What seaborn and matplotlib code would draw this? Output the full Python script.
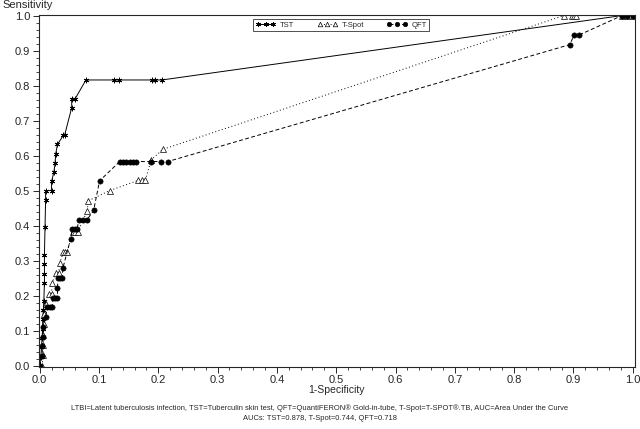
import numpy as np
import pandas as pd
import matplotlib
matplotlib.use("Agg")
import matplotlib.pyplot as plt
from matplotlib.ticker import AutoMinorLocator
import seaborn as sns

tst_x = [0.0, 0.002, 0.003, 0.004, 0.005, 0.005, 0.006, 0.007, 0.008, 0.008, 0.008, 0.008,
         0.009, 0.010, 0.010, 0.020, 0.020, 0.024, 0.026, 0.027, 0.030, 0.040, 0.042,
         0.054, 0.054, 0.060, 0.078, 0.126, 0.134, 0.190, 0.195, 0.206, 0.982, 0.990, 1.0]
tst_y = [0.0, 0.026, 0.053, 0.079, 0.105, 0.132, 0.158, 0.184, 0.237, 0.263, 0.289, 0.316,
         0.395, 0.474, 0.500, 0.500, 0.526, 0.553, 0.579, 0.605, 0.632, 0.658, 0.658,
         0.737, 0.763, 0.763, 0.816, 0.816, 0.816, 0.816, 0.816, 0.816, 1.0, 1.0, 1.0]

tspot_x = [0.0045, 0.005, 0.006, 0.006, 0.007, 0.008, 0.010, 0.016, 0.020, 0.021, 0.027, 0.032,
           0.034, 0.040, 0.043, 0.046, 0.056, 0.060, 0.064, 0.080, 0.082, 0.118, 0.166,
           0.172, 0.178, 0.188, 0.208, 0.884, 0.898, 0.901, 0.904, 0.982, 0.990, 1.0]
tspot_y = [0.0, 0.029, 0.059, 0.088, 0.118, 0.147, 0.176, 0.206, 0.206, 0.235, 0.265, 0.265,
           0.294, 0.324, 0.324, 0.324, 0.382, 0.382, 0.382, 0.441, 0.471, 0.500, 0.529,
           0.529, 0.529, 0.588, 0.618, 1.0, 1.0, 1.0, 1.0, 1.0, 1.0, 1.0]

qft_x = [0.0, 0.004, 0.0045, 0.005, 0.0056, 0.010, 0.013, 0.017, 0.021, 0.022, 0.026, 0.030,
         0.030, 0.031, 0.035, 0.038, 0.039, 0.052, 0.055, 0.059, 0.063, 0.066, 0.073, 0.080,
         0.091, 0.101, 0.135, 0.140, 0.146, 0.153, 0.158, 0.163, 0.188, 0.205, 0.216,
         0.894, 0.901, 0.909, 0.982, 0.990, 1.0]
qft_y = [0.0, 0.028, 0.056, 0.083, 0.111, 0.139, 0.167, 0.167, 0.167, 0.194, 0.194, 0.194,
         0.222, 0.250, 0.250, 0.250, 0.278, 0.361, 0.389, 0.389, 0.389, 0.417, 0.417, 0.417,
         0.444, 0.528, 0.583, 0.583, 0.583, 0.583, 0.583, 0.583, 0.583, 0.583, 0.583,
         0.917, 0.944, 0.944, 1.0, 1.0, 1.0]

series_names = ["TST", "T-Spot", "QFT"]
x_ticks = [0.0, 0.1, 0.2, 0.3, 0.4, 0.5, 0.6, 0.7, 0.8, 0.9, 1.0]
y_ticks = [0.0, 0.1, 0.2, 0.3, 0.4, 0.5, 0.6, 0.7, 0.8, 0.9, 1.0]

df = pd.concat([
    pd.DataFrame({"fpr": tst_x, "sens": tst_y, "test": "TST"}),
    pd.DataFrame({"fpr": tspot_x, "sens": tspot_y, "test": "T-Spot"}),
    pd.DataFrame({"fpr": qft_x, "sens": qft_y, "test": "QFT"}),
], ignore_index=True)

sns.set_style("ticks")
plt.rcParams["font.family"] = ["Liberation Sans", "DejaVu Sans"]

fig = plt.figure(figsize=(6.4, 4.29), dpi=100)
ax = fig.add_axes([38.5 / 640, 1 - 366.7 / 429, (634.5 - 38.5) / 640, (366.7 - 14.5) / 429])

styles = {
    "TST": dict(ls="-", marker=(6, 2, 0), mfc="black", ms=4.0, mew=0.6, lw=0.7),
    "T-Spot": dict(ls=(0, (1, 2.5)), marker="^", mfc="white", ms=3.8, mew=0.5, lw=0.7),
    "QFT": dict(ls=(0, (4, 2.5)), marker="o", mfc="black", ms=3.8, mew=0.4, lw=0.7),
}
for name in series_names:
    sub = df[df["test"] == name]
    st = styles[name]
    sns.lineplot(data=sub, x="fpr", y="sens", sort=False, estimator=None, ax=ax,
                 color="black", linestyle=st["ls"], marker=st["marker"],
                 markerfacecolor=st["mfc"], markeredgecolor="black",
                 markersize=st["ms"], markeredgewidth=st["mew"], linewidth=st["lw"],
                 label=name, legend=False)

ax.set_xlim(-0.002, 1.003)
ax.set_ylim(-0.003, 1.003)
ax.set_xticks(x_ticks)
ax.set_yticks(y_ticks)
ax.set_xticklabels([f"{v:.1f}" for v in x_ticks])
ax.set_yticklabels([f"{v:.1f}" for v in y_ticks])
ax.xaxis.set_minor_locator(AutoMinorLocator(5))
ax.yaxis.set_minor_locator(AutoMinorLocator(5))
ax.tick_params(axis="both", which="major", length=4, width=0.7, labelsize=8, pad=2)
ax.tick_params(axis="both", which="minor", length=2, width=0.6)
for s in ax.spines.values():
    s.set_linewidth(0.8)
ax.set_xlabel("")
ax.set_ylabel("")

fig.text(2 / 640, 1 - 5 / 429, "Sensitivity", fontsize=8, ha="left", va="center")
fig.text(336 / 640, 1 - 390 / 429, "1-Specificity", fontsize=7.5, ha="center", va="center")
fig.text(320 / 640, 1 - 408 / 429,
         "LTBI=Latent tuberculosis infection, TST=Tuberculin skin test, QFT=QuantiFERON\u00ae Gold-in-tube, T-Spot=T-SPOT\u00ae.TB, AUC=Area Under the Curve",
         fontsize=5.4, ha="center", va="center")
fig.text(320 / 640, 1 - 419 / 429, "AUCs: TST=0.878, T-Spot=0.744, QFT=0.718",
         fontsize=5.4, ha="center", va="center")

handles = [plt.Line2D([], [], color="black", linestyle=styles[n]["ls"], marker=styles[n]["marker"],
                      markerfacecolor=styles[n]["mfc"], markeredgecolor="black",
                      markersize=styles[n]["ms"] - 0.5, markeredgewidth=styles[n]["mew"],
                      linewidth=0.7) for n in series_names]
leg = ax.legend(handles, series_names, loc="upper center", bbox_to_anchor=(0.508, 0.986),
                ncol=3, fontsize=5.5, frameon=True, fancybox=False, edgecolor="black",
                numpoints=3, handlelength=2.6, columnspacing=3.0, handletextpad=0.6,
                borderpad=0.3, borderaxespad=0)
leg.get_frame().set_linewidth(0.6)

fig.savefig("out.png", dpi=100)
